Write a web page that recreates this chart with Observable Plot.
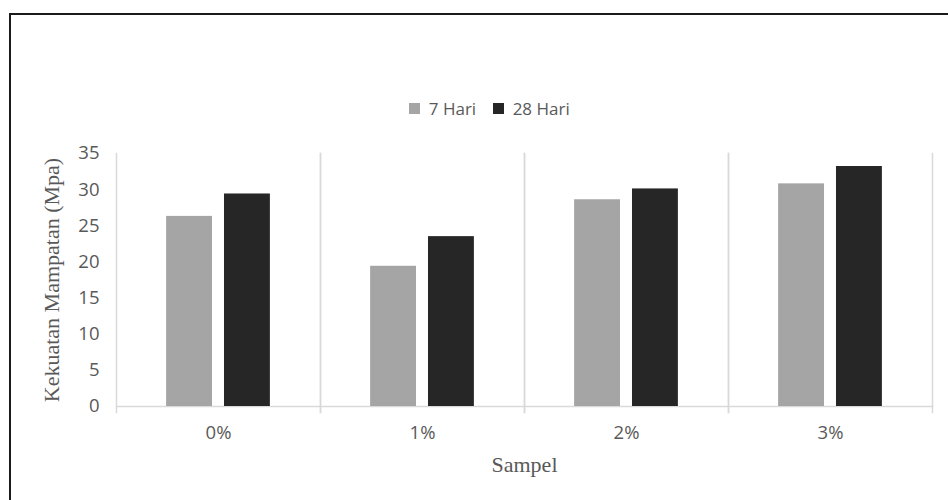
<!DOCTYPE html>
<html>
<head>
<meta charset="utf-8">
<script src="https://cdn.jsdelivr.net/npm/d3@7"></script>
<script src="https://cdn.jsdelivr.net/npm/@observablehq/plot@0.6"></script>
<style>
  html, body { margin: 0; padding: 0; background: #fff; }
  #chart {
    position: relative;
    width: 948px;
    height: 500px;
    overflow: hidden;
    background: #fff;
  }
  #border {
    position: absolute;
    left: 9px;
    top: 13px;
    width: 1000px;
    height: 600px;
    border: 2px solid #1a1a1a;
    box-sizing: border-box;
    pointer-events: none;
  }
  #legend {
    position: absolute;
    left: 24px;
    top: 92px;
    width: 948px;
    text-align: center;
  }
  #legend > * {
    display: inline-flex !important;
    justify-content: center;
    font-family: "Open Sans", sans-serif !important;
    font-size: 17px !important;
    color: #595959;
  }
  #plot {
    position: absolute;
    left: 0;
    top: 140px;
  }
  #plot svg text { fill: #595959; }
  #plot [aria-label="y-axis tick label"] text,
  #plot [aria-label="fx-axis tick label"] text {
    font-family: "Open Sans", sans-serif;
    font-size: 18.5px;
  }
  #plot [aria-label="y-axis label"] text,
  #plot [aria-label="fx-axis label"] text {
    font-family: "Liberation Serif", "DejaVu Serif", serif;
    font-size: 22px;
  }
</style>
</head>
<body>
<div id="chart">
  <div id="legend"></div>
  <div id="plot"></div>
  <div id="border"></div>
</div>
<script>
// Compressive strength by fibre content, at 7 and 28 days of curing
const samples = ["0%", "1%", "2%", "3%"];
const series = ["7 Hari", "28 Hari"];
const hari7 = [26.3, 19.4, 28.6, 30.8];
const hari28 = [29.4, 23.5, 30.1, 33.2];
const yTicks = [0, 5, 10, 15, 20, 25, 30, 35];
const colors = ["#a5a5a5", "#262626"];

const rows = samples.flatMap((s, i) => [
  {sampel: s, hari: series[0], nilai: hari7[i]},
  {sampel: s, hari: series[1], nilai: hari28[i]}
]);

const colorScale = {domain: series, range: colors};

const plot = Plot.plot({
  width: 948,
  height: 360,
  marginLeft: 115,
  marginRight: 16,
  marginTop: 13,
  marginBottom: 94,
  style: {fontFamily: "'Open Sans', sans-serif", fontSize: "17px", color: "#595959"},
  fx: {domain: samples, padding: 0, label: null},
  x: {domain: series, axis: null, paddingInner: 0.207, paddingOuter: 0.866, round: false},
  y: {domain: [0, 35], label: null},
  color: colorScale,
  marks: [
    Plot.frame({anchor: "left", stroke: "#d9d9d9", strokeWidth: 1.5, insetBottom: -6}),
    Plot.frame({anchor: "right", stroke: "#d9d9d9", strokeWidth: 1.5, insetBottom: -6}),
    Plot.frame({anchor: "bottom", stroke: "#d9d9d9", strokeWidth: 1.5}),
    Plot.barY(rows, {fx: "sampel", x: "hari", y: "nilai", fill: "hari"}),
    Plot.axisY({
      ticks: yTicks,
      tickSize: 0,
      tickPadding: 17,
      fontSize: 18.5,
      label: "Kekuatan Mampatan (Mpa)",
      labelAnchor: "center",
      labelArrow: "none",
      labelOffset: 73
    }),
    Plot.axisFx({
      anchor: "bottom",
      tickSize: 0,
      tickPadding: 19,
      fontSize: 18.5,
      label: "Sampel",
      labelAnchor: "center",
      labelArrow: "none",
      labelOffset: 65
    })
  ]
});
document.getElementById("plot").appendChild(plot);

const legend = Plot.legend({
  color: colorScale,
  swatchSize: 11,
  marginLeft: 0
});
document.getElementById("legend").appendChild(legend);
</script>
</body>
</html>
